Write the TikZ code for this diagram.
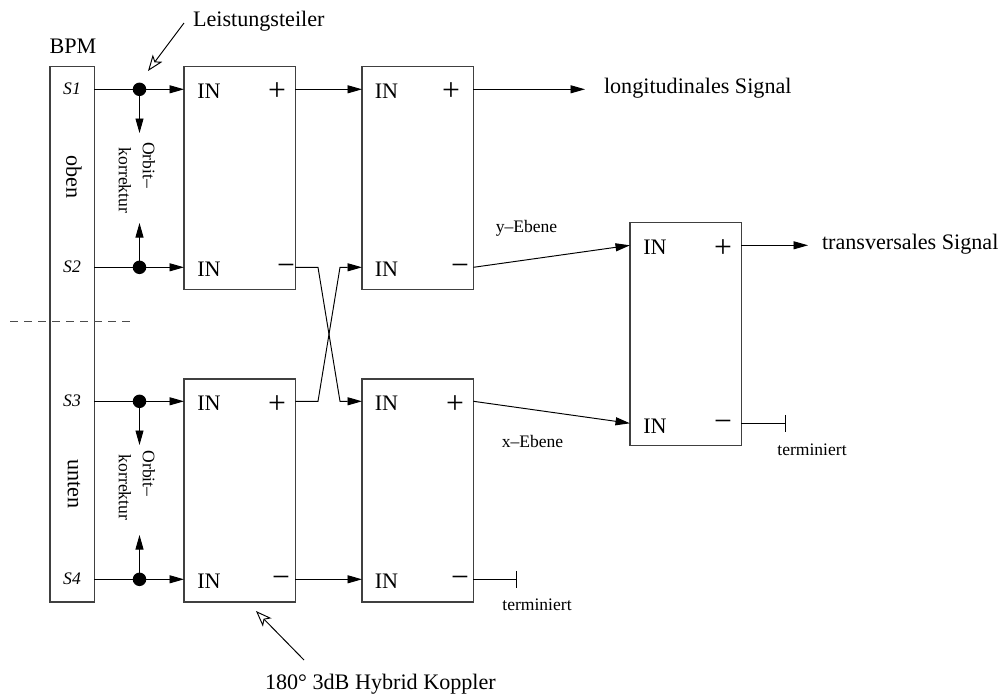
\documentclass[tikz,border=0pt]{standalone}
\usepackage{fontspec}
\setmainfont{Liberation Serif}
\usetikzlibrary{arrows.meta}

\begin{document}
\begin{tikzpicture}[
    x=0.02cm, y=-0.02cm,
    every node/.style={inner sep=0pt, outer sep=0pt},
    lineline/.style={line width=0.55pt, black},
    arrow/.style={lineline, -{Triangle[length=0.29cm, width=0.16cm]}},
    hint/.style={lineline, -{Stealth[open, fill=white, length=0.32cm, width=0.24cm, inset=0.08cm]}},
    stub/.style={lineline, -{Bar[width=0.34cm, line width=0.55pt]}},
    hybrid/.style={rectangle, draw=black!75, line width=0.7pt, minimum width=2.23cm, minimum height=4.46cm, anchor=north west},
    splitter/.style={circle, fill=black, minimum size=0.27cm},
    label/.style={font=\fontsize{12.6}{15}\selectfont},
    small/.style={font=\fontsize{10}{12}\selectfont},
    channel/.style={font=\fontsize{10}{12}\selectfont\itshape},
    sign/.style={font=\fontsize{18}{20}\selectfont}
]
\useasboundingbox (0,0) rectangle (1001,697);

% rows of the signal lines
\coordinate (r1) at (0,89.3);
\coordinate (r2) at (0,267.3);
\coordinate (r3) at (0,401.3);
\coordinate (r4) at (0,579.3);
\coordinate (r5) at (0,245.3);
\coordinate (r6) at (0,423.3);

\node[rectangle, draw=black!75, line width=0.7pt, minimum width=0.89cm, minimum height=10.71cm, anchor=north west] (bpm) at (50,66.5) {};
\node[hybrid] (h1) at (184,66.5) {};
\node[hybrid] (h2) at (362,66.5) {};
\node[hybrid] (h3) at (362,379) {};
\node[hybrid] (h4) at (184,379) {};
\node[hybrid] (h5) at (630,222.7) {};

\node[label] (bpmtext) at (73,46) {BPM};
\node[channel] (s1) at (72,88.5) {S1};
\node[channel] (s2) at (72,267) {S2};
\node[channel] (s3) at (72,401) {S3};
\node[channel] (s4) at (72,579) {S4};
\node[label, rotate=-90] (oben) at (74,177) {oben};
\node[label, rotate=-90] (unten) at (74,484) {unten};

\node[splitter] (d1) at (139.5,89.3) {};
\node[splitter] (d2) at (139.5,267.3) {};
\node[splitter] (d3) at (139.5,401.3) {};
\node[splitter] (d4) at (139.5,579.3) {};

\node[small, rotate=-90] (orbit1) at (149,165) {Orbit--};
\node[small, rotate=-90] (korr1) at (125,180.5) {korrektur};
\node[small, rotate=-90] (orbit2) at (149,473.5) {Orbit--};
\node[small, rotate=-90] (korr2) at (125,487.5) {korrektur};
\coordinate (o1) at (139.5,133);
\coordinate (o2) at (139.5,223);
\coordinate (o3) at (139.5,445);
\coordinate (o4) at (139.5,535);

% port labels
\node[label] (in11) at (209,91) {IN};
\node[label] (in12) at (209,269) {IN};
\node[label] (in21) at (386.5,91) {IN};
\node[label] (in22) at (386.5,269) {IN};
\node[label] (in31) at (386.5,403) {IN};
\node[label] (in32) at (386.5,581) {IN};
\node[label] (in41) at (209,403) {IN};
\node[label] (in42) at (209,581) {IN};
\node[label] (in51) at (655,247) {IN};
\node[label] (in52) at (655,426) {IN};
\node[sign] (p1) at (277,92) {+};
\node[sign] (m1) at (286,270) {−};
\node[sign] (p2) at (451,92) {+};
\node[sign] (m2) at (460,270) {−};
\node[sign] (p3) at (455,404.5) {+};
\node[sign] (m3) at (460,582) {−};
\node[sign] (p4) at (277,404.5) {+};
\node[sign] (m4) at (281,582) {−};
\node[sign] (p5) at (723,248.5) {+};
\node[sign] (m5) at (723,426) {−};

\node[label, anchor=west] (longi) at (604,88) {longitudinales Signal};
\node[label, anchor=west] (trans) at (822,244) {transversales Signal};
\node[label, anchor=west] (leistung) at (193,21) {Leistungsteiler};
\node[label, anchor=west] (koppler) at (265,684) {180° 3dB Hybrid Koppler};
\node[small] (yeb) at (526.5,228.5) {y--Ebene};
\node[small] (xeb) at (532.5,441) {x--Ebene};
\node[small] (term1) at (812,449.5) {terminiert};
\node[small] (term2) at (537,605) {terminiert};

% inputs from the pickups
\draw[lineline] (bpm.east |- r1) -- (d1);
\draw[lineline] (bpm.east |- r2) -- (d2);
\draw[lineline] (bpm.east |- r3) -- (d3);
\draw[lineline] (bpm.east |- r4) -- (d4);
\draw[arrow] (d1) -- (h1.west |- r1);
\draw[arrow] (d2) -- (h1.west |- r2);
\draw[arrow] (d3) -- (h4.west |- r3);
\draw[arrow] (d4) -- (h4.west |- r4);
\draw[arrow] (d1) -- (o1);
\draw[arrow] (d2) -- (o2);
\draw[arrow] (d3) -- (o3);
\draw[arrow] (d4) -- (o4);

% hybrids
\draw[arrow] (h1.east |- r1) -- (h2.west |- r1);
\draw[arrow] (h4.east |- r4) -- (h3.west |- r4);
\draw[arrow] (h1.east |- r2) -- (318,267.3) -- (340,401.3) -- (h3.west |- r3);
\draw[arrow] (h4.east |- r3) -- (318,401.3) -- (340,267.3) -- (h2.west |- r2);
\draw[arrow] (h2.east |- r1) -- (585,89.3);
\draw[arrow] (h2.east |- r2) -- (h5.west |- r5);
\draw[arrow] (h3.east |- r3) -- (h5.west |- r6);
\draw[arrow] (h5.east |- r5) -- (808,245.3);

% terminated outputs
\coordinate (t1) at (786,423.3);
\coordinate (t2) at (517,579.3);
\draw[stub] (h5.east |- r6) -- (t1);
\draw[stub] (h3.east |- r4) -- (t2);

\coordinate (c1) at (10,321);
\coordinate (c2) at (135,321);
\draw[lineline, black!70, dash pattern=on 4.5pt off 3.5pt] (c1) -- (c2);

\coordinate (a1) at (184,23);
\coordinate (a2) at (148,71);
\coordinate (a3) at (304,660);
\coordinate (a4) at (256,611);
\draw[hint] (a1) -- (a2);
\draw[hint] (a3) -- (a4);
\end{tikzpicture}
\end{document}
